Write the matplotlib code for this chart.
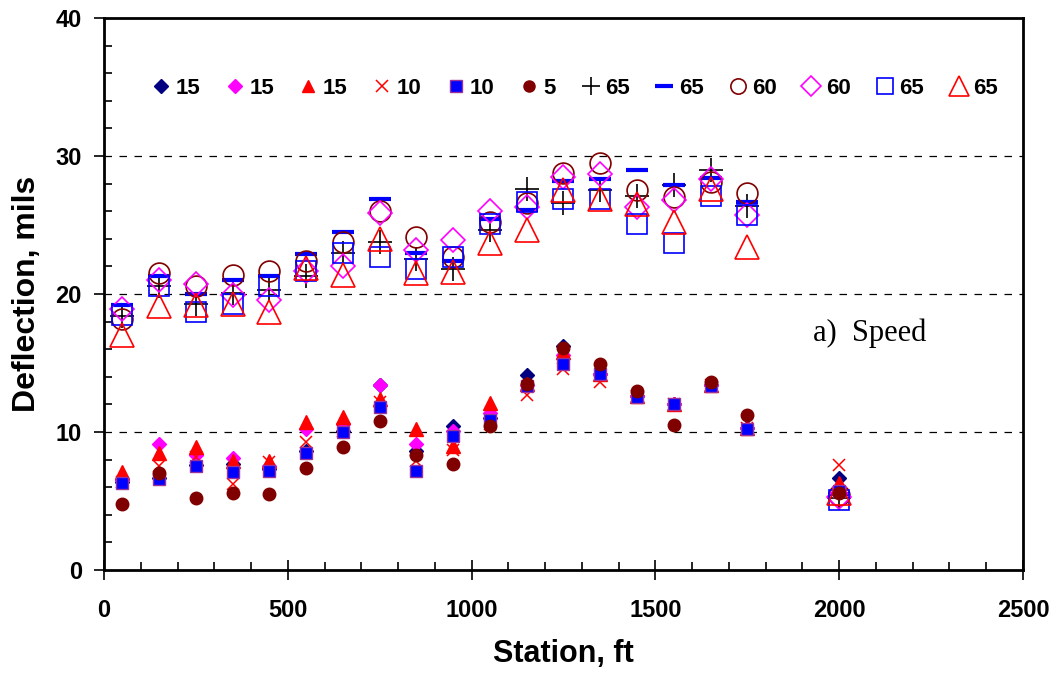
import matplotlib
matplotlib.use("Agg")
import matplotlib.pyplot as plt
from matplotlib.ticker import MultipleLocator

plt.rcParams["font.family"] = ["Liberation Sans", "DejaVu Sans"]

# ---------------------------------------------------------------------------
# data — deflection (mils) by station (ft)
# ---------------------------------------------------------------------------
stations = [50, 150, 250, 350, 450, 550, 650, 750, 850, 950, 1050,
            1150, 1250, 1350, 1450, 1550, 1650, 1750, 2000]

# low group (filled markers)
d15_navy = [6.4, 6.7, 7.6, 7.7, 7.3, 8.6, 10.1, 13.4, 8.6, 10.4, 11.0,
            14.1, 16.2, 14.2, 12.6, 12.0, 13.4, 10.3, 6.7]
d15_magenta = [6.5, 9.1, 8.3, 8.1, 7.5, 10.2, 10.6, 13.4, 9.1, 10.1, 11.4,
               13.4, 15.6, 14.2, 12.6, 12.0, 13.4, 10.3, 6.0]
d15_tri = [7.1, 8.5, 8.9, 7.9, 7.9, 10.7, 11.1, 12.4, 10.2, 9.0, 12.1,
           13.5, 15.8, 14.2, 12.6, 12.0, 13.4, 10.3, 6.3]
d10_x = [6.4, 7.5, 8.2, 6.2, 7.8, 9.3, 10.1, 12.2, 7.9, 8.7, 10.6,
         12.7, 14.6, 13.6, 12.6, 12.0, 13.4, 10.3, 7.6]
d10_sq = [6.3, 6.6, 7.5, 7.1, 7.2, 8.5, 10.0, 11.8, 7.2, 9.7, 10.9,
          13.3, 14.9, 14.2, 12.5, 12.0, 13.3, 10.2, 5.7]
d5_circ = [4.8, 7.0, 5.2, 5.6, 5.5, 7.4, 8.9, 10.8, 8.3, 7.7, 10.4,
           13.5, 16.1, 14.9, 13.0, 10.5, 13.6, 11.2, 5.6]

# high group (open markers)
d65_plus = [18.4, 20.6, 19.3, 20.1, 20.3, 21.3, 23.0, 23.8, 22.5, 21.8, 24.6,
            27.6, 26.6, 27.5, 27.1, 27.9, 29.0, 26.4, 5.2]
d65_dash = [19.2, 21.3, 20.0, 21.0, 21.3, 22.9, 24.5, 26.9, 23.0, 22.4, 25.4,
            26.1, 28.2, 28.3, 29.0, 27.9, 28.4, 26.7, 5.5]
d60_circ = [18.2, 21.5, 20.6, 21.4, 21.7, 22.4, 23.8, 26.0, 24.1, 22.7, 25.2,
            26.6, 28.8, 29.5, 27.5, 27.0, 28.1, 27.3, 5.4]
d60_diam = [18.9, 21.0, 20.7, 19.9, 19.6, 21.7, 22.0, 25.9, 23.2, 23.9, 26.0,
            26.3, 28.5, 28.7, 26.3, 26.8, 28.3, 25.7, 5.3]
d65_sq = [18.5, 20.6, 18.7, 19.3, 20.6, 21.7, 23.0, 22.7, 21.8, 22.7, 25.1,
          26.7, 26.9, 26.9, 25.1, 23.7, 27.1, 25.7, 5.1]
d65_tri = [17.0, 19.1, 19.2, 19.3, 18.7, 21.9, 21.4, 24.0, 21.5, 21.6, 23.7,
           24.6, 27.5, 26.9, 26.5, 25.2, 27.6, 23.4, 5.6]

# ---------------------------------------------------------------------------
# plot
# ---------------------------------------------------------------------------
fig = plt.figure(figsize=(10.59, 6.78), dpi=100)
ax = fig.add_axes([0.0982, 0.1593, 0.8678, 0.8142])

# (values, label, style, legend marker size)
series = [
    (d15_navy, "15", dict(marker="D", ms=7.5, mfc="#000080", mec="#000080"), 7),
    (d15_magenta, "15", dict(marker="D", ms=7.5, mfc="#FF00FF", mec="#FF00FF"), 7),
    (d15_tri, "15", dict(marker="^", ms=9.5, mfc="#FF0000", mec="#FF0000"), 9),
    (d10_x, "10", dict(marker="x", ms=9, mec="#FF0000", mew=1.1), 9),
    (d10_sq, "10", dict(marker="s", ms=8, mfc="#0000FF", mec="#993399", mew=1), 8),
    (d5_circ, "5", dict(marker="o", ms=9, mfc="#800000", mec="#800000"), 8),
    (d65_plus, "65", dict(marker="+", ms=17, mec="black", mew=1.2), 13),
    (d65_dash, "65", dict(marker="_", ms=16, mec="#0000FF", mew=3), 13),
    (d60_circ, "60", dict(marker="o", ms=15, mfc="none", mec="#800000", mew=1.2), 11),
    (d60_diam, "60", dict(marker="D", ms=12.5, mfc="none", mec="#FF00FF", mew=1.2), 10),
    (d65_sq, "65", dict(marker="s", ms=15, mfc="none", mec="#0000FF", mew=1.2), 12),
    (d65_tri, "65", dict(marker="^", ms=17, mfc="none", mec="#FF0000", mew=1.2), 14),
]

# draw open markers first so the filled ones sit on top
lines = {}
for i in list(range(6, 12)) + list(range(6)):
    vals, lab, kw, _ = series[i]
    lines[i], = ax.plot(stations, vals, linestyle="none", label=lab, **kw)

ax.set_xlim(0, 2500)
ax.set_ylim(0, 40)
ax.xaxis.set_major_locator(MultipleLocator(500))
ax.xaxis.set_minor_locator(MultipleLocator(100))
ax.yaxis.set_major_locator(MultipleLocator(10))
ax.yaxis.set_minor_locator(MultipleLocator(2))

ax.tick_params(axis="x", which="major", direction="inout", length=14, width=1.2,
               labelsize=17, pad=14)
ax.tick_params(axis="x", which="minor", direction="in", length=6, width=1.2)
ax.tick_params(axis="y", which="major", direction="out", length=7, width=1.2,
               labelsize=17, pad=9)
ax.tick_params(axis="y", which="minor", direction="in", length=6, width=1.2)
for t in ax.get_xticklabels() + ax.get_yticklabels():
    t.set_fontweight("bold")

for s in ax.spines.values():
    s.set_linewidth(2)

for yv in (10, 20, 30):
    ax.axhline(yv, color="black", lw=0.9, linestyle=(0, (6, 6)), zorder=0)

ax.set_xlabel("Station, ft", fontsize=22, fontweight="bold", labelpad=12)
ax.set_ylabel("Deflection, mils", fontsize=23, fontweight="bold", labelpad=10)

ax.text(0.771, 0.415, "a)  Speed", transform=ax.transAxes, fontsize=22,
        family=["Liberation Serif", "DejaVu Serif"])

order = list(range(12))
leg = ax.legend([lines[i] for i in order], [series[i][1] for i in order],
                ncol=12, loc="center", bbox_to_anchor=(0.512, 0.873),
                frameon=False, prop=dict(size=16, weight="bold"),
                handlelength=0.9, handletextpad=0.2, columnspacing=1.1,
                numpoints=1)
for h, i in zip(leg.legend_handles, order):
    h.set_markersize(series[i][3])

fig.savefig("out.png", dpi=100)
